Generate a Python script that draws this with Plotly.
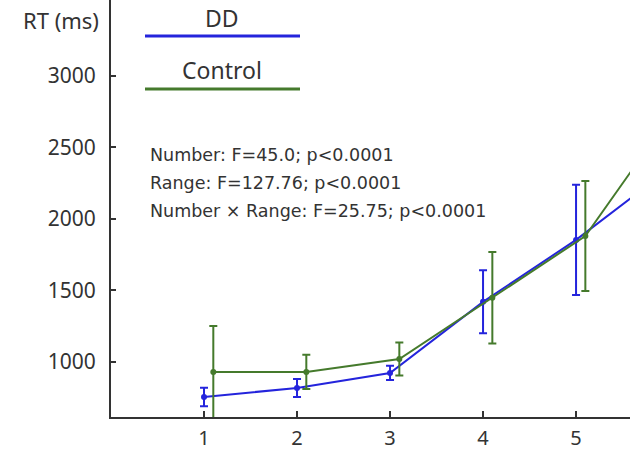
import plotly.graph_objects as go

numbers = [1, 2, 3, 4, 5, 6]
dd_rt = [755, 818, 923, 1420, 1853, 2350]
dd_err = [65, 63, 50, 220, 385, 400]
ctrl_rt = [930, 930, 1020, 1448, 1880, 2800]
ctrl_err = [322, 120, 115, 320, 385, 400]
ctrl_offset = 0.1
y_ticks = [1000, 1500, 2000, 2500, 3000]
stats_lines = ["Number: F=45.0; p<0.0001",
               "Range: F=127.76; p<0.0001",
               "Number × Range: F=25.75; p<0.0001"]

BLUE = "#2424dc"
GREEN = "#457a2c"
FONT = "Noto Sans"
TXT = "#333333"

W, H = 630, 451
L, B = 111, 34
PW, PH = W - L, H - B  # plot area size


def px(xr):  # window x -> paper
    return (xr - L) / PW


def py(yr):  # window y -> paper
    return 1 - yr / PH


fig = go.Figure()
fig.add_trace(go.Scatter(
    x=numbers, y=dd_rt, mode="lines+markers", name="DD",
    line=dict(color=BLUE, width=2), marker=dict(color=BLUE, size=6),
    error_y=dict(type="data", array=dd_err, color=BLUE, thickness=2, width=4),
))
fig.add_trace(go.Scatter(
    x=[n + ctrl_offset for n in numbers], y=ctrl_rt, mode="lines+markers", name="Control",
    line=dict(color=GREEN, width=2), marker=dict(color=GREEN, size=6),
    error_y=dict(type="data", array=ctrl_err, color=GREEN, thickness=2, width=4),
))

fig.update_layout(
    width=W, height=H,
    margin=dict(l=L, r=0, t=0, b=B, autoexpand=False),
    paper_bgcolor="white", plot_bgcolor="white",
    showlegend=False,
    font=dict(family=FONT, color=TXT),
    xaxis=dict(range=[0, 5.58], tickvals=[1, 2, 3, 4, 5], showgrid=False, zeroline=False,
               showline=True, linecolor="#333", linewidth=2, ticks="inside", ticklen=6,
               tickcolor="#333", tickwidth=2, ticklabelstandoff=2,
               tickfont=dict(size=20, family=FONT, color=TXT)),
    yaxis=dict(range=[615, 3530], tickvals=y_ticks, showgrid=False, zeroline=False,
               showline=True, linecolor="#333", linewidth=2, ticks="inside", ticklen=5,
               tickcolor="#333", tickwidth=2, ticklabelstandoff=9,
               tickfont=dict(size=21, family=FONT, color=TXT)),
)

# y-axis title at top-left
fig.add_annotation(x=px(101), y=py(20), xref="paper", yref="paper", xanchor="right",
                   yanchor="middle", text="RT (ms)", showarrow=False,
                   font=dict(size=22, family=FONT, color=TXT))

# custom legend
legend_items = [("DD", BLUE), ("Control", GREEN)]
for i, (name, col) in enumerate(legend_items):
    ytxt = py(18 + 52 * i)
    yline = py(36 + 53 * i)
    fig.add_annotation(x=px(222), y=ytxt, xref="paper", yref="paper",
                       text=name, showarrow=False, xanchor="center", yanchor="middle",
                       font=dict(size=23, family=FONT, color=TXT))
    fig.add_shape(type="line", xref="paper", yref="paper",
                  x0=px(145), x1=px(300), y0=yline, y1=yline,
                  line=dict(color=col, width=3))

# statistics text
for i, line in enumerate(stats_lines):
    fig.add_annotation(x=px(148), y=py(155 + 28 * i), xref="paper", yref="paper",
                       text=line, showarrow=False, xanchor="left", yanchor="middle",
                       font=dict(size=17.5, family="DejaVu Sans", color=TXT))

fig.write_html("out.html", config={"displayModeBar": False},
               post_script="document.body.style.margin='0';")
